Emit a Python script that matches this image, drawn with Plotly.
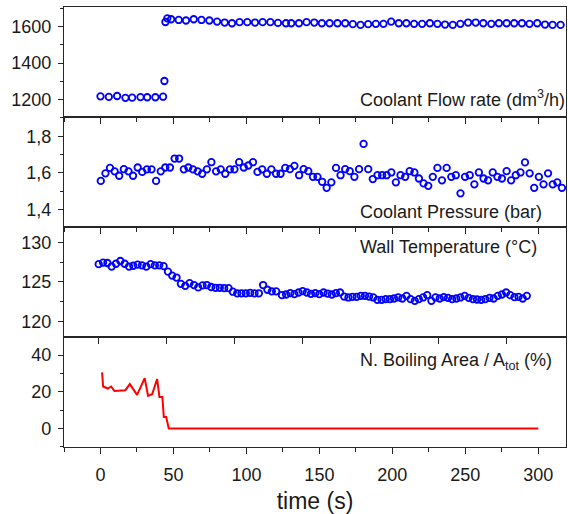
import plotly.graph_objects as go

# ---------------- data ----------------
# Panel 1: coolant flow rate (dm3/h)
flow_t = [0.0, 5.7, 11.4, 17.1, 21.7, 27.4, 32.0, 37.6, 42.9, 43.8, 44.5, 45.8,
          48.4, 53.6, 58.6, 63.9, 69.2, 74.6, 79.9, 85.1, 90.1, 95.3, 100.6, 105.9,
          111.1, 116.4, 121.6, 127.1,
          130.7, 136.0, 141.2, 146.5, 151.7, 157.0, 162.4, 167.7, 172.9, 178.2, 183.4, 188.7,
          193.9, 199.2, 204.4, 209.6, 214.9, 220.4, 225.7, 230.9, 236.1, 241.4, 246.6, 251.9,
          257.1, 262.3, 267.8, 273.0, 278.3, 283.5, 288.8, 294.0, 299.3, 304.6, 309.8, 315.3]
flow_v = [1218, 1215, 1220, 1210, 1211, 1214, 1213, 1213, 1216, 1302, 1625, 1645,
          1640, 1636, 1633, 1640, 1636, 1633, 1627, 1622, 1618, 1624, 1624, 1622,
          1624, 1624, 1620, 1618,
          1618, 1618, 1624, 1622, 1618, 1618, 1618, 1618, 1613, 1609, 1613, 1615,
          1615, 1627, 1618, 1618, 1615, 1615, 1618, 1615, 1611, 1609, 1615, 1622,
          1622, 1618, 1615, 1618, 1618, 1618, 1618, 1615, 1618, 1611, 1609, 1609]

# Panel 2: coolant pressure (bar)
press_t = [0.2, 3.4, 6.5, 9.7, 12.8, 16.0, 19.2, 22.3, 25.5, 28.6, 31.8, 35.0, 38.1, 41.3,
           44.4, 47.6, 50.8, 53.9, 57.1, 60.2, 63.4, 66.6, 69.7, 72.9, 76.0, 79.2, 82.4,
           85.5, 88.7, 91.8, 95.0, 98.2, 101.3, 104.5, 107.6, 110.8, 114.0, 117.1, 120.3,
           123.4, 126.6, 129.8, 132.9, 136.1, 139.2, 142.4, 145.6, 148.7, 151.9, 155.0,
           158.2, 161.4, 164.5, 167.7, 170.8, 174.0, 177.2, 180.3, 183.5, 186.6, 189.8,
           193.0, 196.1, 199.3, 202.4, 205.6, 208.8, 211.9, 215.1, 218.2, 221.4, 224.6,
           227.7, 230.9, 234.0, 237.2, 240.4, 243.5, 246.7, 249.8, 253.0, 256.2, 259.3,
           262.5, 265.6, 268.8, 272.0, 275.1, 278.3, 281.4, 284.6, 287.8, 290.9, 294.1,
           297.2, 300.4, 303.6, 306.7, 309.9, 313.0, 316.2]
press_v = [1.556, 1.597, 1.627, 1.608, 1.584, 1.620, 1.608, 1.584, 1.629, 1.605, 1.619,
           1.619, 1.556, 1.608, 1.629, 1.629, 1.678, 1.678, 1.619, 1.629, 1.619, 1.608,
           1.595, 1.619, 1.658, 1.608, 1.619, 1.595, 1.619, 1.619, 1.658, 1.629, 1.640,
           1.658, 1.605, 1.619, 1.595, 1.619, 1.595, 1.595,
           1.627, 1.620, 1.638, 1.587, 1.620, 1.609, 1.578, 1.578, 1.551, 1.518, 1.548,
           1.627, 1.587, 1.620, 1.609, 1.578, 1.620, 1.758, 1.620, 1.566, 1.587, 1.587,
           1.587, 1.602, 1.548, 1.587, 1.578, 1.609, 1.602, 1.569, 1.542, 1.529, 1.578,
           1.627, 1.559, 1.627, 1.578, 1.587, 1.488, 1.578, 1.587, 1.537, 1.602, 1.569,
           1.559, 1.602, 1.578, 1.569, 1.609, 1.559, 1.587, 1.602, 1.657, 1.597, 1.518,
           1.578, 1.537, 1.597, 1.537, 1.548, 1.518]

# Panel 3: wall temperature (degC), on its own x scale
wall_t = [0.0, 3.2, 6.4, 9.5, 12.7, 15.9, 19.1, 22.3, 25.4, 28.6, 31.8, 35.0, 38.2, 41.3,
          44.5, 47.7, 50.9, 54.0, 57.2, 60.4, 63.6, 66.8, 70.0, 73.1, 76.3, 79.5, 82.7,
          85.9, 89.0, 92.2, 95.4, 98.6, 101.8, 104.9, 108.1, 111.3, 114.5, 117.7, 120.8,
          124.0, 127.2, 130.4,
          134.7, 137.7, 140.8, 143.8, 146.9, 149.9, 153.0, 156.0, 159.1, 162.1, 165.2,
          168.2, 171.3, 174.3, 177.4, 180.4, 183.5, 186.5, 189.6, 192.6, 195.7, 198.7,
          201.8, 204.8, 207.9, 210.9, 214.0, 217.0, 220.1, 223.1, 226.2, 229.2, 232.3,
          235.3, 238.4, 241.4, 244.5, 247.5, 250.6, 253.6, 256.7, 259.7, 262.8, 265.8,
          268.9, 271.9, 275.0, 278.0, 281.1, 284.1, 287.2, 290.2, 293.3, 296.3, 299.4,
          302.4, 305.5, 308.5, 311.6, 314.6]
wall_v = [127.25, 127.45, 127.40, 126.95, 127.30, 127.65, 127.30, 126.95, 127.05, 127.20,
          127.10, 126.95, 127.25, 127.10, 127.10, 127.00, 126.30, 125.80, 125.55, 124.75,
          124.50, 124.85, 124.60, 124.30, 124.55, 124.60, 124.35, 124.25, 124.25, 124.20,
          124.20, 123.75, 123.55, 123.55, 123.55, 123.60, 123.55, 123.55, 124.60, 124.00,
          123.80, 123.80,
          123.31, 123.40, 123.57, 123.44, 123.65, 123.82, 123.65, 123.48, 123.57, 123.44,
          123.65, 123.52, 123.40, 123.57, 123.65, 123.14, 123.02, 123.10, 123.10, 123.23,
          123.23, 123.14, 123.02, 122.72, 122.72, 122.81, 122.81, 122.89, 123.02, 122.89,
          123.23, 122.81, 122.59, 122.81, 123.02, 123.31, 122.59, 123.02, 122.89, 123.06,
          122.97, 122.81, 122.89, 123.02, 123.23, 122.97, 122.81, 122.76, 122.72, 122.81,
          122.97, 122.89, 123.23, 123.40, 123.65, 123.31, 123.06, 123.10, 122.89, 123.23]

# Panel 4: nucleate boiling area / A_tot (%)
boil_t = [1.1, 1.8, 5.0, 7.3, 9.6, 17.1, 20.1, 25.1, 30.3, 32.6, 35.4, 38.8, 40.4, 42.4,
          43.4, 45.0, 46.8, 300.0]
boil_v = [30.6, 22.9, 21.8, 22.9, 20.4, 20.9, 24.2, 18.3, 27.5, 17.8, 18.7, 27.0, 17.2,
          17.2, 6.2, 6.2, 0.0, 0.0]

x_tickvals = [0, 50, 100, 150, 200, 250, 300]
panel_labels = ["Coolant Flow rate (dm<sup>3</sup>/h)", "Coolant Pressure (bar)",
                "Wall Temperature (°C)", "N. Boiling Area / A<sub>tot</sub> (%)"]

# ---------------- figure ----------------
FONT = "Liberation Sans, Arial, sans-serif"
AX = "#262626"
TXT = "#1a1a1a"
BLUE = "#0000ff"

marker = dict(symbol="circle-open", size=6.5, color=BLUE, line=dict(width=1.8, color=BLUE))

fig = go.Figure()
fig.add_trace(go.Scatter(x=flow_t, y=flow_v, mode="markers", marker=marker,
                         xaxis="x4", yaxis="y4"))
fig.add_trace(go.Scatter(x=press_t, y=press_v, mode="markers", marker=marker,
                         xaxis="x3", yaxis="y3"))
fig.add_trace(go.Scatter(x=wall_t, y=wall_v, mode="markers", marker=marker,
                         xaxis="x2", yaxis="y2"))
fig.add_trace(go.Scatter(x=boil_t, y=boil_v, mode="lines",
                         line=dict(color="#ff0000", width=2), xaxis="x", yaxis="y"))

common_x = dict(range=[-25, 319], showgrid=False, zeroline=False, showline=True,
                linecolor=AX, linewidth=1.3, mirror=True, ticks="outside", ticklen=6,
                tickwidth=1.2, tickcolor=AX, tickvals=x_tickvals, automargin=False,
                minor=dict(dtick=25, tick0=0, ticks="outside", ticklen=3.5,
                           tickwidth=1.2, tickcolor=AX))
common_y = dict(showgrid=False, zeroline=False, showline=True, linecolor=AX, linewidth=1.3,
                mirror=True, ticks="outside", ticklen=5, tickwidth=1.2, tickcolor=AX,
                ticklabelstandoff=3, automargin=False,
                tickfont=dict(size=18, color=TXT, family=FONT))

fig.update_layout(
    width=568, height=514,
    margin=dict(l=63.5, r=2, t=7, b=66.5),
    plot_bgcolor="white", paper_bgcolor="white",
    showlegend=False,
    separators=",.",
    font=dict(family=FONT, size=18, color=TXT),
    xaxis=dict(common_x, domain=[0, 1], anchor="y", showticklabels=True,
               ticklabelstandoff=5,
               tickfont=dict(size=18, color=TXT, family=FONT),
               title=dict(text="time (s)", font=dict(size=23, family=FONT, color=TXT),
                          standoff=18)),
    xaxis2=dict(range=[-25.5, 343.4], domain=[0, 1], anchor="y2", showgrid=False,
                zeroline=False, showline=True, linecolor=AX, linewidth=1.3, mirror=True,
                ticks="outside", ticklen=6, tickwidth=1.2, tickcolor=AX, automargin=False,
                tickvals=x_tickvals, showticklabels=False),
    xaxis3=dict(common_x, domain=[0, 1], anchor="y3", showticklabels=False),
    xaxis4=dict(common_x, domain=[0, 1], anchor="y4", showticklabels=False),
    yaxis=dict(common_y, domain=[0, 0.25], anchor="x", range=[-10.1, 49.9],
               tickvals=[0, 20, 40],
               minor=dict(dtick=10, tick0=0, ticks="outside", ticklen=3, tickwidth=1.2,
                          tickcolor=AX)),
    yaxis2=dict(common_y, domain=[0.25, 0.5], anchor="x2", range=[118.0, 131.97],
                tickvals=[120, 125, 130],
                minor=dict(dtick=2.5, tick0=120, ticks="outside", ticklen=3, tickwidth=1.2,
                           tickcolor=AX)),
    yaxis3=dict(common_y, domain=[0.5, 0.75], anchor="x3", range=[1.304, 1.905],
                tickvals=[1.4, 1.6, 1.8], tickformat=".1f",
                minor=dict(dtick=0.1, tick0=1.3, ticks="outside", ticklen=3, tickwidth=1.2,
                           tickcolor=AX)),
    yaxis4=dict(common_y, domain=[0.75, 1], anchor="x4", range=[1105, 1707],
                tickvals=[1200, 1400, 1600], tickformat="d",
                minor=dict(dtick=100, tick0=1100, ticks="outside", ticklen=3, tickwidth=1.2,
                           tickcolor=AX)),
)

ann_y = [0.791, 0.533, 0.4545, 0.1948]
for txt, yy in zip(panel_labels, ann_y):
    fig.add_annotation(text=txt, xref="paper", yref="paper", x=0.586, y=yy,
                       xanchor="left", yanchor="middle", showarrow=False,
                       font=dict(size=18, family=FONT, color=TXT))

fig.write_html(
    "out.html",
    config={"displayModeBar": False},
    post_script="document.body.style.margin='0';document.body.style.padding='0';"
                "document.body.style.overflow='hidden';",
)
